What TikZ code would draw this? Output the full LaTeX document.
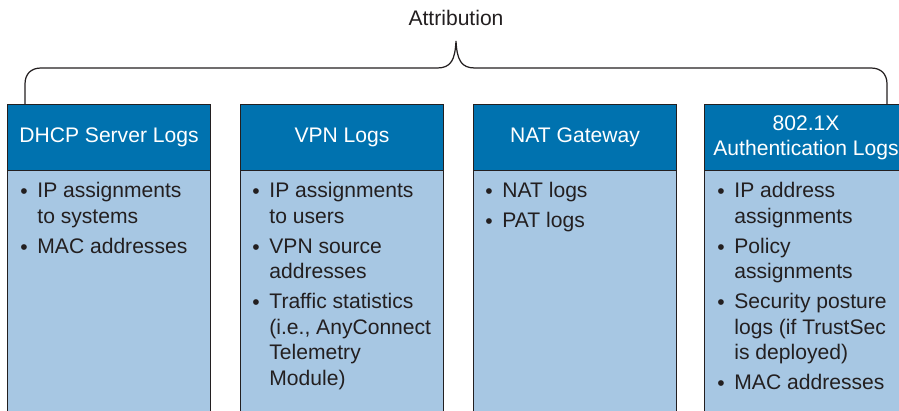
\documentclass[tikz,border=0pt]{standalone}
\usepackage{fontspec}
\setmainfont{Liberation Sans}
\usetikzlibrary{positioning}
\definecolor{hdrblue}{RGB}{0,114,175}
\definecolor{bodyblue}{RGB}{167,199,227}
\definecolor{ink}{RGB}{35,31,32}
\newcommand{\bul}{\makebox[9.7pt][l]{\raisebox{-0.6pt}{\textbullet}}}
\newcommand{\ind}{\hspace*{9.7pt}}

\begin{document}
\begin{tikzpicture}[x=0.02cm,y=-0.02cm,line cap=round,
  head/.style={draw=ink,line width=0.6pt,fill=hdrblue,text=white,anchor=north west,
    minimum width=4.06cm,minimum height=1.32cm,inner sep=0pt,align=center,
    font=\fontsize{12}{14.3}\selectfont},
  body/.style={draw=ink,line width=0.6pt,fill=bodyblue,anchor=north west,
    minimum width=4.06cm,minimum height=4.9cm,inner sep=0pt},
  items/.style={anchor=north west,inner sep=0pt,align=left,text=ink,
    font=\fontsize{12}{14.5}\selectfont}]
\useasboundingbox (0,0) rectangle (899,410);
\clip (0,0) rectangle (899,410);
% columns
\node[body] (dhcpbody) at (7,170) {};
\node[body] (vpnbody) at (240,170) {};
\node[body] (natbody) at (473,170) {};
\node[body] (dotbody) at (704,170) {};
\node[head] (dhcp) at (7,104) {DHCP Server Logs};
\node[head] (vpn) at (240,104) {VPN Logs};
\node[head] (nat) at (473,104) {NAT Gateway};
\node[head] (dot) at (704,104) {802.1X\\Authentication Logs};
% lists
\node[items] (dhcplist) at (20,182) {\bul IP assignments\\ \ind to systems\\[2.6pt]
  \bul MAC addresses};
\node[items] (vpnlist) at (252,182) {\bul IP assignments\\ \ind to users\\[2.6pt]
  \bul VPN source\\ \ind addresses\\[2.6pt]
  \bul Traffic statistics\\ \ind (i.e., AnyConnect\\ \ind Telemetry\\ \ind Module)};
\node[items] (natlist) at (485,182) {\bul NAT logs\\[2.6pt] \bul PAT logs};
\node[items] (dotlist) at (717,182) {\bul IP address\\ \ind assignments\\[2.6pt]
  \bul Policy\\ \ind assignments\\[2.6pt]
  \bul Security posture\\ \ind logs (if TrustSec\\ \ind is deployed)\\[2.6pt]
  \bul MAC addresses};
% brace
\node[font=\fontsize{12}{14.5}\selectfont,text=ink] (attr) at (456,18) {Attribution};
\coordinate (tip) at (456,41);
\draw[ink,line width=0.7pt] (25,104) -- (25,84) .. controls (25,74) and (31,68) .. (41,68)
  -- (437,68) .. controls (451,68) and (455,60) .. (tip)
  .. controls (457,60) and (461,68) .. (475,68)
  -- (871,68) .. controls (881,68) and (887,74) .. (887,84) -- (887,104);
\end{tikzpicture}
\end{document}
